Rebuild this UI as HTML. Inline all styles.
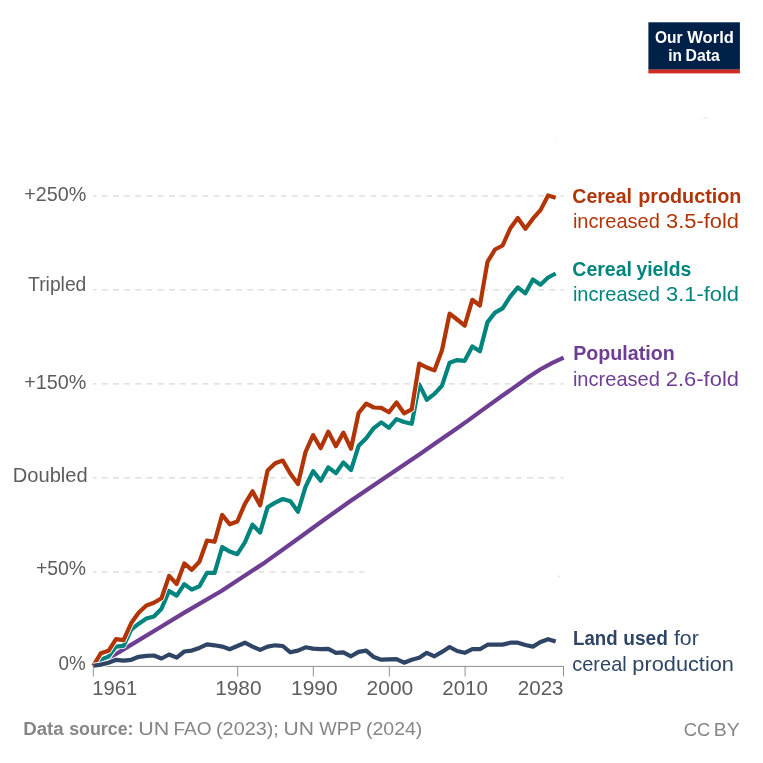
<!DOCTYPE html>
<html lang="en">
<head>
<meta charset="utf-8">
<title>Cereal production, yields, population and land use</title>
<style>
html,body{margin:0;padding:0;background:#ffffff;}
body{width:763px;height:763px;overflow:hidden;}
svg{display:block;}
text{font-family:"Liberation Sans",sans-serif;}
.ln{fill:none;stroke-linejoin:round;stroke-linecap:butt;}
</style>
</head>
<body>
<svg width="763" height="763" viewBox="0 0 763 763">
<defs><filter id="gs" x="0" y="0" width="763" height="763" filterUnits="userSpaceOnUse"><feOffset dx="0" dy="0"/></filter></defs>
<rect width="763" height="763" fill="#ffffff"/>
<!-- logo -->
<rect x="648.4" y="22.3" width="91.5" height="47.4" fill="#002147"/>
<rect x="648.4" y="69.6" width="91.5" height="3.8" fill="#d02a20"/>
<g filter="url(#gs)">
<text y="43.2" font-size="16.3" fill="#ffffff"><tspan x="654.92" font-weight="bold" textLength="27.61" lengthAdjust="spacingAndGlyphs">Our</tspan> <tspan x="687.27" font-weight="bold" textLength="46.57" lengthAdjust="spacingAndGlyphs">World</tspan></text>
<text y="60.5" font-size="16.3" fill="#ffffff"><tspan x="668.32" font-weight="bold" textLength="13.61" lengthAdjust="spacingAndGlyphs">in</tspan> <tspan x="685.50" font-weight="bold" textLength="34.20" lengthAdjust="spacingAndGlyphs">Data</tspan></text>
</g>
<!-- grid -->
<line x1="93.4" x2="364.2" y1="571.8" y2="571.8" stroke="#d8d8d8" stroke-width="1.2" stroke-dasharray="5.8 5.39" stroke-dashoffset="2.79"/>
<line x1="93.4" x2="563.9" y1="477.8" y2="477.8" stroke="#d8d8d8" stroke-width="1.2" stroke-dasharray="5.8 5.39" stroke-dashoffset="2.79"/>
<line x1="93.4" x2="563.9" y1="383.8" y2="383.8" stroke="#d8d8d8" stroke-width="1.2" stroke-dasharray="5.8 5.39" stroke-dashoffset="2.79"/>
<line x1="93.4" x2="563.9" y1="289.9" y2="289.9" stroke="#d8d8d8" stroke-width="1.2" stroke-dasharray="5.8 5.39" stroke-dashoffset="2.79"/>
<line x1="93.4" x2="563.9" y1="195.9" y2="195.9" stroke="#d8d8d8" stroke-width="1.2" stroke-dasharray="5.8 5.39" stroke-dashoffset="2.79"/>
<rect x="558.2" y="575.6" width="1.5" height="1.6" fill="#dddddd"/>
<path d="M703.4,118.4 Q705.4,116.6 707.4,119.2" fill="none" stroke="#e2e2e2" stroke-width="1"/>
<rect x="555.2" y="138.8" width="1.1" height="1.1" fill="#e6e6e6"/>
<!-- axis -->
<line x1="92.8" x2="564" y1="666.4" y2="666.4" stroke="#8f8f8f" stroke-width="1"/>
<line x1="93.3" x2="93.3" y1="666.4" y2="676.5" stroke="#8f8f8f" stroke-width="1"/>
<line x1="237.7" x2="237.7" y1="666.4" y2="676.5" stroke="#8f8f8f" stroke-width="1"/>
<line x1="313.3" x2="313.3" y1="666.4" y2="676.5" stroke="#8f8f8f" stroke-width="1"/>
<line x1="389.3" x2="389.3" y1="666.4" y2="676.5" stroke="#8f8f8f" stroke-width="1"/>
<line x1="465.1" x2="465.1" y1="666.4" y2="676.5" stroke="#8f8f8f" stroke-width="1"/>
<line x1="563.5" x2="563.5" y1="666.4" y2="676.5" stroke="#8f8f8f" stroke-width="1"/>
<!-- lines -->
<path class="ln" stroke="#ffffff" stroke-width="6.0" d="M93.3,665.8 L100.9,662.4 L108.5,658.5 L116.0,654.0 L123.6,649.4 L161.5,626.5 L184.3,612.6 L221.4,591.0 L265.0,562.4 L300.0,537.3 L322.3,521.0 L350.8,500.8 L388.9,475.0 L420.0,454.0 L435.0,443.6 L455.7,429.3 L469.3,419.6 L481.9,410.4 L502.9,395.3 L520.0,383.3 L528.3,377.3 L540.1,369.5 L551.9,363.2 L563.6,357.7"/>
<path class="ln" stroke="#6D3E91" stroke-width="4.2" d="M93.3,665.8 L100.9,662.4 L108.5,658.5 L116.0,654.0 L123.6,649.4 L161.5,626.5 L184.3,612.6 L221.4,591.0 L265.0,562.4 L300.0,537.3 L322.3,521.0 L350.8,500.8 L388.9,475.0 L420.0,454.0 L435.0,443.6 L455.7,429.3 L469.3,419.6 L481.9,410.4 L502.9,395.3 L520.0,383.3 L528.3,377.3 L540.1,369.5 L551.9,363.2 L563.6,357.7"/>
<path class="ln" stroke="#ffffff" stroke-width="6.0" d="M93.3,665.8 L100.9,659.6 L108.5,656.6 L116.0,646.6 L123.6,645.8 L131.2,629.6 L138.8,623.7 L146.4,618.5 L153.9,616.5 L161.5,608.7 L169.1,591.0 L176.7,595.6 L184.3,584.2 L191.8,589.6 L199.4,586.3 L207.0,572.8 L214.6,572.8 L222.2,547.0 L229.7,551.6 L237.3,554.2 L244.9,542.4 L252.5,524.7 L260.1,532.6 L267.6,507.2 L275.2,502.6 L282.8,499.0 L290.4,501.3 L298.0,511.7 L305.5,486.8 L313.1,471.1 L320.7,480.7 L328.3,467.4 L335.9,473.2 L343.4,462.4 L351.0,470.1 L358.6,445.8 L366.2,438.3 L373.8,428.1 L381.3,422.4 L388.9,427.9 L396.5,419.1 L404.1,422.0 L411.7,423.8 L419.2,384.4 L426.8,399.8 L434.4,393.9 L442.0,385.7 L449.6,362.7 L457.1,360.1 L464.7,360.8 L472.3,346.4 L479.9,351.3 L487.5,322.1 L495.0,312.6 L502.6,308.3 L510.2,296.6 L517.8,287.4 L525.4,293.3 L532.9,279.5 L540.5,284.7 L548.1,277.5 L555.7,273.5"/>
<path class="ln" stroke="#00847E" stroke-width="4.2" d="M93.3,665.8 L100.9,659.6 L108.5,656.6 L116.0,646.6 L123.6,645.8 L131.2,629.6 L138.8,623.7 L146.4,618.5 L153.9,616.5 L161.5,608.7 L169.1,591.0 L176.7,595.6 L184.3,584.2 L191.8,589.6 L199.4,586.3 L207.0,572.8 L214.6,572.8 L222.2,547.0 L229.7,551.6 L237.3,554.2 L244.9,542.4 L252.5,524.7 L260.1,532.6 L267.6,507.2 L275.2,502.6 L282.8,499.0 L290.4,501.3 L298.0,511.7 L305.5,486.8 L313.1,471.1 L320.7,480.7 L328.3,467.4 L335.9,473.2 L343.4,462.4 L351.0,470.1 L358.6,445.8 L366.2,438.3 L373.8,428.1 L381.3,422.4 L388.9,427.9 L396.5,419.1 L404.1,422.0 L411.7,423.8 L419.2,384.4 L426.8,399.8 L434.4,393.9 L442.0,385.7 L449.6,362.7 L457.1,360.1 L464.7,360.8 L472.3,346.4 L479.9,351.3 L487.5,322.1 L495.0,312.6 L502.6,308.3 L510.2,296.6 L517.8,287.4 L525.4,293.3 L532.9,279.5 L540.5,284.7 L548.1,277.5 L555.7,273.5"/>
<path class="ln" stroke="#ffffff" stroke-width="6.0" d="M93.3,665.8 L100.9,653.2 L108.5,650.8 L116.0,639.2 L123.6,640.1 L131.2,623.1 L138.8,612.6 L146.4,605.4 L153.9,602.8 L161.5,598.2 L169.1,575.9 L176.7,584.0 L184.3,563.4 L191.8,569.9 L199.4,561.8 L207.0,540.5 L214.6,541.8 L222.2,514.9 L229.7,524.3 L237.3,521.5 L244.9,503.8 L252.5,491.3 L260.1,505.3 L267.6,470.5 L275.2,463.3 L282.8,460.6 L290.4,473.7 L298.0,484.0 L305.5,452.1 L313.1,435.1 L320.7,448.2 L328.3,431.6 L335.9,446.2 L343.4,432.6 L351.0,448.7 L358.6,413.0 L366.2,403.7 L373.8,407.5 L381.3,407.9 L388.9,412.3 L396.5,402.5 L404.1,413.3 L411.7,409.4 L419.2,363.6 L426.8,367.5 L434.4,370.4 L442.0,350.3 L449.6,313.6 L457.1,319.5 L464.7,325.6 L472.3,299.8 L479.9,305.5 L487.5,261.9 L495.0,249.5 L502.6,245.5 L510.2,228.5 L517.8,218.0 L525.4,228.8 L532.9,218.7 L540.5,210.1 L548.1,195.5 L555.7,197.7"/>
<path class="ln" stroke="#B13507" stroke-width="4.2" d="M93.3,665.8 L100.9,653.2 L108.5,650.8 L116.0,639.2 L123.6,640.1 L131.2,623.1 L138.8,612.6 L146.4,605.4 L153.9,602.8 L161.5,598.2 L169.1,575.9 L176.7,584.0 L184.3,563.4 L191.8,569.9 L199.4,561.8 L207.0,540.5 L214.6,541.8 L222.2,514.9 L229.7,524.3 L237.3,521.5 L244.9,503.8 L252.5,491.3 L260.1,505.3 L267.6,470.5 L275.2,463.3 L282.8,460.6 L290.4,473.7 L298.0,484.0 L305.5,452.1 L313.1,435.1 L320.7,448.2 L328.3,431.6 L335.9,446.2 L343.4,432.6 L351.0,448.7 L358.6,413.0 L366.2,403.7 L373.8,407.5 L381.3,407.9 L388.9,412.3 L396.5,402.5 L404.1,413.3 L411.7,409.4 L419.2,363.6 L426.8,367.5 L434.4,370.4 L442.0,350.3 L449.6,313.6 L457.1,319.5 L464.7,325.6 L472.3,299.8 L479.9,305.5 L487.5,261.9 L495.0,249.5 L502.6,245.5 L510.2,228.5 L517.8,218.0 L525.4,228.8 L532.9,218.7 L540.5,210.1 L548.1,195.5 L555.7,197.7"/>
<path class="ln" stroke="#ffffff" stroke-width="6.0" d="M93.3,665.8 L100.9,664.6 L108.5,662.8 L116.0,659.8 L123.6,660.7 L131.2,659.8 L138.8,656.8 L146.4,655.8 L153.9,655.5 L161.5,658.5 L169.1,654.5 L176.7,657.6 L184.3,651.5 L191.8,650.6 L199.4,647.9 L207.0,644.4 L214.6,645.3 L222.2,646.6 L229.7,649.2 L237.3,646.0 L244.9,642.7 L252.5,646.6 L260.1,649.9 L267.6,646.6 L275.2,645.3 L282.8,646.0 L290.4,652.3 L298.0,650.6 L305.5,647.3 L313.1,648.6 L320.7,649.2 L328.3,648.9 L335.9,652.8 L343.4,652.3 L351.0,656.3 L358.6,651.9 L366.2,650.6 L373.8,657.1 L381.3,659.7 L388.9,659.3 L396.5,659.1 L404.1,662.7 L411.7,659.7 L419.2,657.8 L426.8,652.8 L434.4,656.3 L442.0,651.9 L449.6,647.0 L457.1,651.0 L464.7,652.8 L472.3,649.2 L479.9,649.2 L487.5,644.7 L495.0,644.7 L502.6,644.6 L510.2,642.7 L517.8,642.7 L525.4,645.0 L532.9,646.6 L540.5,642.0 L548.1,639.2 L555.7,641.4"/>
<path class="ln" stroke="#2F4565" stroke-width="4.2" d="M93.3,665.8 L100.9,664.6 L108.5,662.8 L116.0,659.8 L123.6,660.7 L131.2,659.8 L138.8,656.8 L146.4,655.8 L153.9,655.5 L161.5,658.5 L169.1,654.5 L176.7,657.6 L184.3,651.5 L191.8,650.6 L199.4,647.9 L207.0,644.4 L214.6,645.3 L222.2,646.6 L229.7,649.2 L237.3,646.0 L244.9,642.7 L252.5,646.6 L260.1,649.9 L267.6,646.6 L275.2,645.3 L282.8,646.0 L290.4,652.3 L298.0,650.6 L305.5,647.3 L313.1,648.6 L320.7,649.2 L328.3,648.9 L335.9,652.8 L343.4,652.3 L351.0,656.3 L358.6,651.9 L366.2,650.6 L373.8,657.1 L381.3,659.7 L388.9,659.3 L396.5,659.1 L404.1,662.7 L411.7,659.7 L419.2,657.8 L426.8,652.8 L434.4,656.3 L442.0,651.9 L449.6,647.0 L457.1,651.0 L464.7,652.8 L472.3,649.2 L479.9,649.2 L487.5,644.7 L495.0,644.7 L502.6,644.6 L510.2,642.7 L517.8,642.7 L525.4,645.0 L532.9,646.6 L540.5,642.0 L548.1,639.2 L555.7,641.4"/>
<!-- text -->
<g filter="url(#gs)">
<text y="200.8" font-size="21.0" fill="#5d5d5d"><tspan x="24.34" textLength="62.11" lengthAdjust="spacingAndGlyphs">+250%</tspan></text>
<text y="290.8" font-size="20.3" fill="#5d5d5d"><tspan x="28.11" textLength="58.25" lengthAdjust="spacingAndGlyphs">Tripled</tspan></text>
<text y="388.8" font-size="21.0" fill="#5d5d5d"><tspan x="24.34" textLength="62.11" lengthAdjust="spacingAndGlyphs">+150%</tspan></text>
<text y="481.7" font-size="20.3" fill="#5d5d5d"><tspan x="12.75" textLength="75.00" lengthAdjust="spacingAndGlyphs">Doubled</tspan></text>
<text y="575.3" font-size="21.0" fill="#5d5d5d"><tspan x="35.96" textLength="50.09" lengthAdjust="spacingAndGlyphs">+50%</tspan></text>
<text y="669.5" font-size="21.0" fill="#5d5d5d"><tspan x="58.48" textLength="27.21" lengthAdjust="spacingAndGlyphs">0%</tspan></text>
<text y="695.0" font-size="21.0" fill="#5d5d5d"><tspan x="92.34" textLength="44.82" lengthAdjust="spacingAndGlyphs">1961</tspan></text>
<text y="695.0" font-size="21.0" fill="#5d5d5d"><tspan x="215.19" textLength="46.33" lengthAdjust="spacingAndGlyphs">1980</tspan></text>
<text y="695.0" font-size="21.0" fill="#5d5d5d"><tspan x="290.98" textLength="46.64" lengthAdjust="spacingAndGlyphs">1990</tspan></text>
<text y="695.0" font-size="21.0" fill="#5d5d5d"><tspan x="366.59" textLength="46.63" lengthAdjust="spacingAndGlyphs">2000</tspan></text>
<text y="695.0" font-size="21.0" fill="#5d5d5d"><tspan x="442.21" textLength="45.70" lengthAdjust="spacingAndGlyphs">2010</tspan></text>
<text y="695.0" font-size="21.0" fill="#5d5d5d"><tspan x="517.81" textLength="45.74" lengthAdjust="spacingAndGlyphs">2023</tspan></text>
<text y="202.9" font-size="20.3" fill="#B13507"><tspan x="572.32" font-weight="bold" textLength="59.70" lengthAdjust="spacingAndGlyphs">Cereal</tspan> <tspan x="638.24" font-weight="bold" textLength="103.12" lengthAdjust="spacingAndGlyphs">production</tspan></text>
<text y="227.8" font-size="20.3" fill="#B13507"><tspan x="572.92" textLength="86.98" lengthAdjust="spacingAndGlyphs">increased</tspan> <tspan x="665.98" textLength="72.98" lengthAdjust="spacingAndGlyphs">3.5-fold</tspan></text>
<text y="275.6" font-size="20.3" fill="#00847E"><tspan x="572.32" font-weight="bold" textLength="59.60" lengthAdjust="spacingAndGlyphs">Cereal</tspan> <tspan x="636.41" font-weight="bold" textLength="54.93" lengthAdjust="spacingAndGlyphs">yields</tspan></text>
<text y="301.2" font-size="20.3" fill="#00847E"><tspan x="572.92" textLength="86.98" lengthAdjust="spacingAndGlyphs">increased</tspan> <tspan x="665.98" textLength="72.98" lengthAdjust="spacingAndGlyphs">3.1-fold</tspan></text>
<text y="360.2" font-size="20.3" fill="#6D3E91"><tspan x="573.24" font-weight="bold" textLength="101.39" lengthAdjust="spacingAndGlyphs">Population</tspan></text>
<text y="385.8" font-size="20.3" fill="#6D3E91"><tspan x="572.92" textLength="86.98" lengthAdjust="spacingAndGlyphs">increased</tspan> <tspan x="665.82" textLength="73.14" lengthAdjust="spacingAndGlyphs">2.6-fold</tspan></text>
<text y="644.8" font-size="20.3" fill="#2F4565"><tspan x="572.99" font-weight="bold" textLength="44.58" lengthAdjust="spacingAndGlyphs">Land</tspan> <tspan x="623.29" font-weight="bold" textLength="44.60" lengthAdjust="spacingAndGlyphs">used</tspan> <tspan x="673.93" textLength="24.81" lengthAdjust="spacingAndGlyphs">for</tspan></text>
<text y="670.5" font-size="20.3" fill="#2F4565"><tspan x="572.28" textLength="54.43" lengthAdjust="spacingAndGlyphs">cereal</tspan> <tspan x="632.34" textLength="101.62" lengthAdjust="spacingAndGlyphs">production</tspan></text>
<text y="735.3" font-size="18.7" fill="#868686"><tspan x="23.24" font-weight="bold" textLength="40.42" lengthAdjust="spacingAndGlyphs">Data</tspan> <tspan x="69.18" font-weight="bold" textLength="64.32" lengthAdjust="spacingAndGlyphs">source:</tspan> <tspan x="138.26" textLength="31.08" lengthAdjust="spacingAndGlyphs">UN</tspan> <tspan x="173.49" textLength="38.16" lengthAdjust="spacingAndGlyphs">FAO</tspan> <tspan x="216.00" textLength="62.88" lengthAdjust="spacingAndGlyphs">(2023);</tspan> <tspan x="283.58" textLength="30.54" lengthAdjust="spacingAndGlyphs">UN</tspan> <tspan x="319.34" textLength="41.82" lengthAdjust="spacingAndGlyphs">WPP</tspan> <tspan x="365.92" textLength="56.48" lengthAdjust="spacingAndGlyphs">(2024)</tspan></text>
<text y="735.5" font-size="18.7" fill="#868686"><tspan x="683.83" textLength="26.52" lengthAdjust="spacingAndGlyphs">CC</tspan> <tspan x="713.66" textLength="25.95" lengthAdjust="spacingAndGlyphs">BY</tspan></text>
</g>
</svg>
</body>
</html>
